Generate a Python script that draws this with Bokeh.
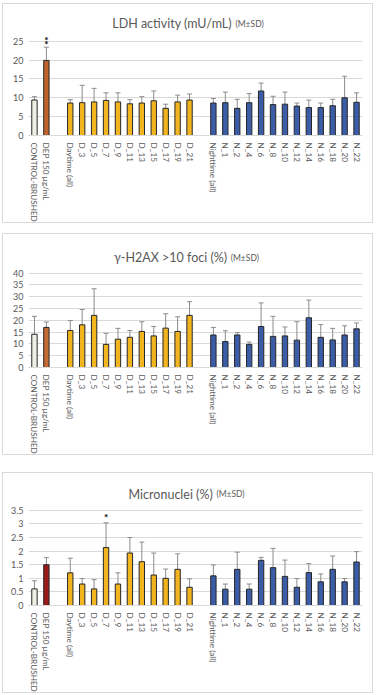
from bokeh.plotting import figure
from bokeh.models import FactorRange, Range1d, ColumnDataSource, Whisker, TeeHead, FixedTicker, Label
from bokeh.layouts import column
from bokeh.embed import file_html
from bokeh.resources import INLINE
from bokeh.core.properties import value

# ---------------- data ----------------
control = ["CONTROL-BRUSHED"]
dep = ["DEP 150 µg/mL"]
day = ["Daytime (all)", "D_3", "D_5", "D_7", "D_9", "D_11", "D_13", "D_15", "D_17", "D_19", "D_21"]
night = ["Nighttime (all)", "N_1", "N_2", "N_4", "N_6", "N_8", "N_10", "N_12", "N_14", "N_16", "N_18", "N_20", "N_22"]
bars = control + dep + day + night
axis_factors = control + dep + [" "] + day + ["  "] + night

ldh_mean = [9.4, 19.9, 8.6, 8.7, 8.9, 9.3, 8.9, 8.4, 8.6, 9.2, 7.2, 8.9, 9.4,
            8.6, 8.7, 7.2, 8.7, 11.8, 8.2, 8.3, 7.8, 7.4, 7.4, 7.9, 10.0, 8.8]
ldh_sd = [0.9, 3.5, 0.9, 4.6, 3.6, 2.0, 2.4, 1.1, 1.7, 2.6, 1.1, 1.8, 1.6,
          1.2, 2.8, 2.4, 2.4, 2.1, 2.2, 3.2, 0.8, 2.0, 1.2, 1.7, 5.7, 2.5]
ldh_ticks = [0, 5, 10, 15, 20, 25]

h2ax_mean = [14.1, 17.0, 15.7, 18.1, 22.1, 9.8, 12.0, 12.8, 15.3, 13.4, 16.7, 15.3, 22.1,
             13.8, 11.0, 13.8, 9.8, 17.4, 13.2, 13.4, 11.6, 21.1, 12.8, 11.7, 13.8, 16.4]
h2ax_sd = [7.6, 2.3, 4.2, 6.5, 11.3, 4.7, 4.6, 2.9, 4.1, 4.0, 6.1, 6.2, 5.8,
           3.2, 4.6, 1.0, 1.0, 10.0, 8.5, 3.8, 7.8, 7.5, 5.4, 4.9, 3.9, 2.5]
h2ax_ticks = [0, 5, 10, 15, 20, 25, 30, 35, 40]

mn_mean = [0.61, 1.50, 1.20, 0.79, 0.61, 2.13, 0.79, 1.93, 1.61, 1.12, 1.00, 1.33, 0.67,
           1.09, 0.60, 1.33, 0.60, 1.66, 1.39, 1.07, 0.67, 1.21, 0.87, 1.33, 0.87, 1.60]
mn_sd = [0.30, 0.26, 0.54, 0.20, 0.34, 0.91, 0.41, 0.57, 0.72, 0.81, 0.34, 0.57, 0.31,
         0.40, 0.19, 0.63, 0.19, 0.11, 0.71, 0.60, 0.32, 0.33, 0.29, 0.49, 0.12, 0.38]
mn_ticks = [0, 0.5, 1, 1.5, 2, 2.5, 3, 3.5]
mn_tick_labels = {0: "0", 0.5: "0.5", 1: "1", 1.5: "1.5", 2: "2", 2.5: "2.5", 3: "3", 3.5: "3.5"}

# significance marks: (category, number of stacked marks)
ldh_sig = ("DEP 150 µg/mL", 2)
mn_sig = ("D_7", 1)

# ---------------- style ----------------
FONT = "Lato"
C_CTRL = "#edf1e3"
C_DAY = "#f2b51f"
C_NIGHT = "#3b5ca6"
GRID = "#d9d9d9"
TXT = "#595959"


def make_panel(title, means, sds, dep_color, y_end, ticks, height, bottom,
               title_y, title_x, sig=None, sig_step=1.0, sig_off=1.0, tick_labels=None, margin=(0, 0, 0, 2)):
    colors = [C_CTRL, dep_color] + [C_DAY] * len(day) + [C_NIGHT] * len(night)
    tops = [m + s for m, s in zip(means, sds)]
    src = ColumnDataSource(dict(cat=bars, mean=means, top=tops, color=colors))
    p = figure(x_range=FactorRange(factors=axis_factors), y_range=Range1d(0, y_end),
               width=371, height=height, output_backend="svg", toolbar_location=None,
               min_border_left=25, min_border_right=12, min_border_top=5, min_border_bottom=bottom,
               margin=margin)
    p.styles = {"border": "1px solid #d9d9d9", "box-sizing": "border-box"}
    p.outline_line_color = None
    p.background_fill_color = "white"
    p.border_fill_color = "white"
    p.xgrid.grid_line_color = None
    p.ygrid.ticker = FixedTicker(ticks=ticks)
    p.ygrid.grid_line_color = GRID
    p.yaxis.ticker = FixedTicker(ticks=ticks)
    if tick_labels:
        p.yaxis.major_label_overrides = tick_labels
    p.yaxis.axis_line_color = None
    p.yaxis.major_tick_line_color = None
    p.yaxis.minor_tick_line_color = None
    p.yaxis.major_tick_out = 0
    p.yaxis.minor_tick_out = 0
    p.yaxis.major_label_text_font = FONT
    p.yaxis.major_label_text_font_size = "9px"
    p.yaxis.major_label_text_color = TXT
    p.yaxis.major_label_standoff = 5
    p.xaxis.axis_line_color = GRID
    p.xaxis.major_tick_line_color = None
    p.xaxis.minor_tick_line_color = None
    p.xaxis.major_tick_out = 0
    p.xaxis.minor_tick_out = 0
    p.xaxis.major_label_orientation = "vertical"
    p.xaxis.major_label_text_font = FONT
    p.xaxis.major_label_text_font_size = "8.2px"
    p.xaxis.major_label_text_color = TXT
    p.xaxis.major_label_standoff = 7

    p.vbar(x="cat", top="mean", width=0.45, fill_color="color", line_color="#262626",
           line_width=1, source=src)
    w = Whisker(base="cat", lower="mean", upper="top", source=src, line_color="#8c8c8c",
                line_width=1, lower_head=None,
                upper_head=TeeHead(size=5, line_color="#8c8c8c", line_width=1))
    p.add_layout(w)

    main, sub = title
    p.add_layout(Label(x=title_x - 0.15, y=title_y, text=main, text_align="right",
                       text_baseline="alphabetic", text_font=FONT, text_font_size="12.5px",
                       text_color=TXT))
    p.add_layout(Label(x=title_x + 0.15, y=title_y, text=sub, text_align="left",
                       text_baseline="alphabetic", text_font=FONT, text_font_size="8.5px",
                       text_color=TXT))
    if sig:
        cat, n = sig
        i = bars.index(cat)
        xs = axis_factors.index(cat) + 0.5
        for k in range(n):
            p.add_layout(Label(x=xs, y=tops[i] + sig_off + k * sig_step, text="*",
                               text_align="center", text_baseline="middle",
                               text_font=FONT, text_font_size="10px", text_font_style="bold",
                               text_color="#000000"))
    return p


p1 = make_panel(("LDH activity (mU/mL)", "(M±SD)"), ldh_mean, ldh_sd, "#c0622c",
                33.4, ldh_ticks, 220, 88, 29.66, 17.2, sig=ldh_sig, sig_step=1.05, sig_off=0.9,
                margin=(3, 0, 0, 2))
p2 = make_panel(("γ-H2AX >10 foci (%)", "(M±SD)"), h2ax_mean, h2ax_sd, "#c46a33",
                54.3, h2ax_ticks, 222, 86, 46.6, 16.8, margin=(10, 0, 0, 2))
p3 = make_panel(("Micronuclei (%)", "(M±SD)"), mn_mean, mn_sd, "#9b1b1b",
                4.67, mn_ticks, 221, 88, 4.09, 15.6, sig=mn_sig, sig_off=0.2,
                tick_labels=mn_tick_labels, margin=(17, 0, 0, 2))

layout = column(p1, p2, p3, spacing=0)
open("out.html", "w").write(file_html(layout, INLINE))
